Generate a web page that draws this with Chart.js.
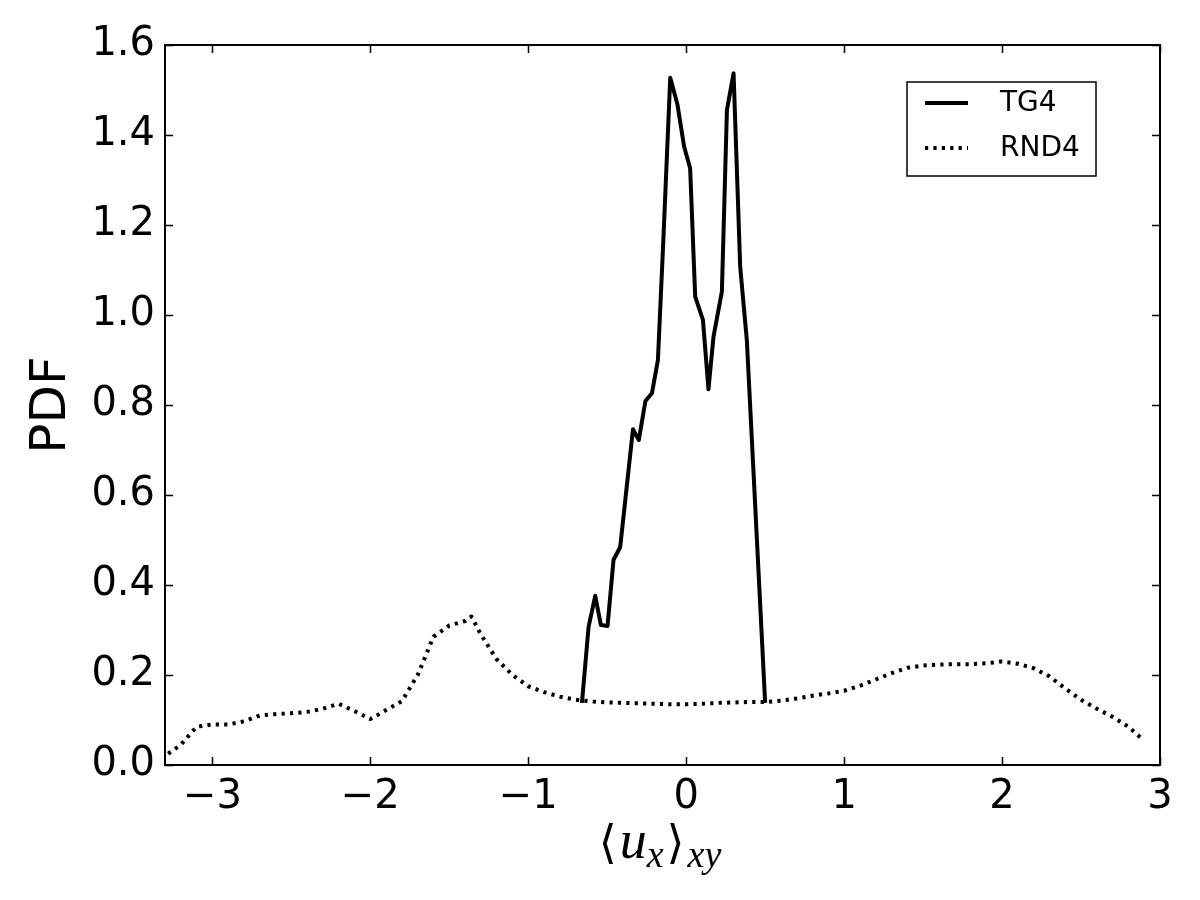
<!DOCTYPE html>
<html><head><meta charset="utf-8">
<script src="https://cdn.jsdelivr.net/npm/chart.js@4"></script>
<style>html,body{margin:0;padding:0;background:#fff}</style>
</head><body>
<canvas id="c" width="1200" height="900"></canvas>
<script>
// ---- data ----
const seriesLabels = ['TG4', 'RND4'];
const tg4X = [-0.66, -0.618, -0.576, -0.54, -0.498, -0.46, -0.418, -0.337, -0.30, -0.258, -0.217, -0.179, -0.146, -0.101, -0.055, -0.013, 0.025, 0.057, 0.106, 0.141, 0.173, 0.226, 0.258, 0.30, 0.342, 0.384, 0.5];
const tg4Y = [0.138, 0.307, 0.376, 0.311, 0.309, 0.456, 0.484, 0.746, 0.722, 0.809, 0.826, 0.90, 1.156, 1.527, 1.467, 1.374, 1.326, 1.041, 0.989, 0.835, 0.952, 1.052, 1.456, 1.537, 1.107, 0.944, 0.138];
const rnd4X = [-3.28, -3.2, -3.1, -3.0, -2.9, -2.8, -2.7, -2.6, -2.5, -2.4, -2.3, -2.2, -2.1, -2.0, -1.9, -1.8, -1.7, -1.6, -1.5, -1.4, -1.36, -1.3, -1.2, -1.1, -1.0, -0.9, -0.8, -0.7, -0.6, -0.5, -0.4, -0.3, -0.2, -0.1, 0.0, 0.1, 0.2, 0.3, 0.4, 0.5, 0.6, 0.7, 0.8, 0.9, 1.0, 1.1, 1.2, 1.3, 1.4, 1.5, 1.6, 1.7, 1.8, 1.9, 2.0, 2.1, 2.2, 2.3, 2.4, 2.5, 2.6, 2.7, 2.8, 2.88];
const rnd4Y = [0.025, 0.045, 0.085, 0.09, 0.09, 0.097, 0.11, 0.113, 0.115, 0.118, 0.125, 0.136, 0.12, 0.102, 0.122, 0.142, 0.2, 0.285, 0.31, 0.32, 0.33, 0.29, 0.235, 0.2, 0.175, 0.162, 0.152, 0.145, 0.141, 0.139, 0.138, 0.137, 0.136, 0.135, 0.135, 0.136, 0.138, 0.139, 0.14, 0.14, 0.143, 0.148, 0.154, 0.159, 0.165, 0.176, 0.19, 0.204, 0.216, 0.221, 0.223, 0.224, 0.224, 0.226, 0.23, 0.225, 0.215, 0.197, 0.17, 0.145, 0.125, 0.107, 0.085, 0.06];
const xTicks = [-3, -2, -1, 0, 1, 2, 3];
const yTicks = [0, 0.2, 0.4, 0.6, 0.8, 1.0, 1.2, 1.4, 1.6];
const xRange = [-3.3, 3];
const yRange = [0, 1.6];
const yTitle = 'PDF';

const toPts = (xs, ys) => xs.map((x, i) => ({x: x, y: ys[i]}));
const FONT = "'DejaVu Sans', sans-serif";

const framePlugin = {
  id: 'frame',
  afterDraw(chart) {
    const ctx = chart.ctx, a = chart.chartArea;
    const sx = chart.scales.x, sy = chart.scales.y;
    ctx.save();
    // ticks inward
    ctx.strokeStyle = '#000'; ctx.lineWidth = 1.5;
    ctx.beginPath();
    sx.ticks.forEach(t => {
      const p = Math.round(sx.getPixelForValue(t.value)) + 0.5;
      ctx.moveTo(p, a.bottom); ctx.lineTo(p, a.bottom - 8);
      ctx.moveTo(p, a.top); ctx.lineTo(p, a.top + 8);
    });
    sy.ticks.forEach(t => {
      const p = Math.round(sy.getPixelForValue(t.value)) + 0.5;
      ctx.moveTo(a.left, p); ctx.lineTo(a.left + 8, p);
      ctx.moveTo(a.right, p); ctx.lineTo(a.right - 8, p);
    });
    ctx.stroke();
    // frame
    ctx.lineWidth = 2;
    ctx.strokeRect(a.left, a.top, a.right - a.left, a.bottom - a.top);

    // y title
    ctx.fillStyle = '#000';
    ctx.save();
    ctx.translate(52, (a.top + a.bottom) / 2);
    ctx.rotate(-Math.PI / 2);
    ctx.font = '50px ' + FONT;
    ctx.textAlign = 'center'; ctx.textBaseline = 'middle';
    ctx.fillText(yTitle, 0, 0);
    ctx.restore();

    // x title: <u_x>_xy (math style)
    const big = "italic 54px 'Liberation Serif', 'DejaVu Serif', serif";
    const brk = "46px 'DejaVu Serif', serif";
    const sub = "italic 38px 'Liberation Serif', 'DejaVu Serif', serif";
    const parts = [
      {t: '\u27E8', f: brk, dy: 0, gap: 3},
      {t: 'u', f: big, dy: 0, gap: 0},
      {t: 'x', f: sub, dy: 9, gap: 3},
      {t: '\u27E9', f: brk, dy: 0, gap: 3},
      {t: 'xy', f: sub, dy: 9, gap: 0}
    ];
    let total = 0;
    parts.forEach(p => { ctx.font = p.f; p.w = ctx.measureText(p.t).width; total += p.w + p.gap; });
    let cx = 660 - total / 2;
    const base = 858;
    ctx.textAlign = 'left'; ctx.textBaseline = 'alphabetic';
    parts.forEach(p => { ctx.font = p.f; ctx.fillText(p.t, cx, base + p.dy); cx += p.w + p.gap; });

    // legend
    const lx = a.right - 253, ly = a.top + 37, lw = 189, lh = 94;
    ctx.fillStyle = '#fff';
    ctx.fillRect(lx, ly, lw, lh);
    ctx.strokeStyle = '#000'; ctx.lineWidth = 1.5;
    ctx.strokeRect(lx, ly, lw, lh);
    chart.data.datasets.forEach((ds, i) => {
      const yy = ly + 21 + i * 45;
      ctx.save();
      ctx.strokeStyle = ds.borderColor; ctx.lineWidth = ds.borderWidth;
      ctx.setLineDash(ds.borderDash || []);
      ctx.beginPath(); ctx.moveTo(lx + 18, yy); ctx.lineTo(lx + 61, yy); ctx.stroke();
      ctx.restore();
      ctx.fillStyle = '#000';
      ctx.font = '28px ' + FONT;
      ctx.textAlign = 'left'; ctx.textBaseline = 'middle';
      ctx.fillText(ds.label, lx + 93, yy + 1);
    });
    ctx.restore();
  }
};

new Chart(document.getElementById('c'), {
  type: 'line',
  data: {
    datasets: [
      {label: seriesLabels[0], data: toPts(tg4X, tg4Y), borderColor: '#000', borderWidth: 4, pointRadius: 0, tension: 0, fill: false, borderJoinStyle: 'round', borderCapStyle: 'butt'},
      {label: seriesLabels[1], data: toPts(rnd4X, rnd4Y), borderColor: '#000', borderWidth: 4, borderDash: [3.2, 5.2], pointRadius: 0, tension: 0, fill: false, borderCapStyle: 'butt', borderJoinStyle: 'round'}
    ]
  },
  options: {
    responsive: false, animation: false, devicePixelRatio: 1,
    layout: {padding: {top: 45, right: 40, left: 0, bottom: 0}},
    plugins: {legend: {display: false}, tooltip: {enabled: false}},
    scales: {
      x: {
        type: 'linear', min: xRange[0], max: xRange[1],
        afterBuildTicks: s => { s.ticks = xTicks.map(v => ({value: v})); },
        afterFit: s => { s.height = 135; },
        grid: {display: false, drawTicks: false},
        border: {display: false},
        ticks: {color: '#000', font: {family: 'DejaVu Sans', size: 40}, padding: 9, maxRotation: 0,
          callback: v => (v < 0 ? '\u2212' : '') + Math.abs(v)}
      },
      y: {
        type: 'linear', min: yRange[0], max: yRange[1],
        afterBuildTicks: s => { s.ticks = yTicks.map(v => ({value: v})); },
        afterFit: s => { s.width = 165; },
        grid: {display: false, drawTicks: false},
        border: {display: false},
        ticks: {color: '#000', font: {family: 'DejaVu Sans', size: 40}, padding: 10,
          callback: v => v.toFixed(1)}
      }
    }
  },
  plugins: [framePlugin]
});
</script>
</body></html>
